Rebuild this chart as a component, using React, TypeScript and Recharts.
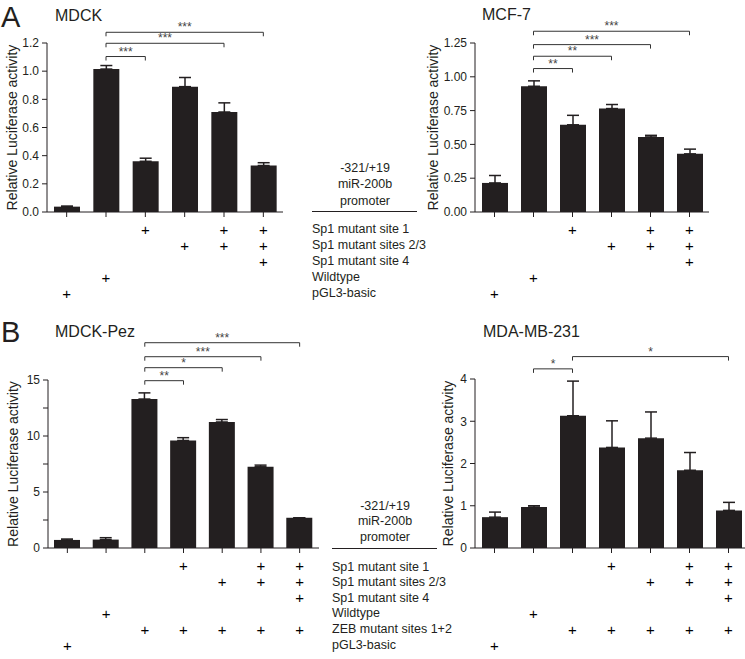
import React from "react";
import { BarChart, Bar, XAxis, YAxis, ErrorBar, ReferenceLine } from "recharts";

const INK = "#231f20";
const FONT = '"Liberation Sans", Arial, Helvetica, sans-serif';

// ---- panel A (MDCK, MCF-7) ----
const catsA = ["pGL3-basic", "Wildtype", "Sp1 mut 1", "Sp1 mut 2/3", "Sp1 mut 1+2/3", "Sp1 mut 1+2/3+4"];
const mdckValues = [0.038, 1.015, 0.36, 0.89, 0.71, 0.33];
const mdckErrors = [0.004, 0.025, 0.022, 0.065, 0.065, 0.02];
const mcf7Values = [0.215, 0.93, 0.645, 0.765, 0.555, 0.43];
const mcf7Errors = [0.055, 0.04, 0.07, 0.03, 0.012, 0.035];
const rowLabelsA = ["Sp1 mutant site 1", "Sp1 mutant sites 2/3", "Sp1 mutant site 4", "Wildtype", "pGL3-basic"];
const plusA = [
  [0, 0, 1, 0, 1, 1],
  [0, 0, 0, 1, 1, 1],
  [0, 0, 0, 0, 0, 1],
  [0, 1, 0, 0, 0, 0],
  [1, 0, 0, 0, 0, 0],
];
const mdckTicks = [0, 0.2, 0.4, 0.6, 0.8, 1.0, 1.2];
const mcf7Ticks = [0, 0.25, 0.5, 0.75, 1.0, 1.25];
// [from, to, height, stars]
const mdckBrackets: [number, number, number, string][] = [
  [1, 2, 1.104, "***"],
  [1, 4, 1.198, "***"],
  [1, 5, 1.276, "***"],
];
const mcf7Brackets: [number, number, number, string][] = [
  [1, 2, 1.061, "**"],
  [1, 3, 1.152, "**"],
  [1, 4, 1.238, "***"],
  [1, 5, 1.337, "***"],
];

// ---- panel B (MDCK-Pez, MDA-MB-231) ----
const catsB = ["pGL3-basic", "Wildtype", "ZEB mut", "ZEB+Sp1 mut 1", "ZEB+Sp1 mut 2/3", "ZEB+Sp1 mut 1+2/3", "ZEB+Sp1 mut 1+2/3+4"];
const pezValues = [0.72, 0.75, 13.3, 9.6, 11.25, 7.25, 2.7];
const pezErrors = [0.08, 0.17, 0.55, 0.25, 0.22, 0.15, 0];
const mdaValues = [0.73, 0.97, 3.13, 2.38, 2.6, 1.84, 0.89];
const mdaErrors = [0.12, 0.03, 0.82, 0.63, 0.62, 0.42, 0.19];
const rowLabelsB = ["Sp1 mutant site 1", "Sp1 mutant sites 2/3", "Sp1 mutant site 4", "Wildtype", "ZEB mutant sites 1+2", "pGL3-basic"];
const plusB = [
  [0, 0, 0, 1, 0, 1, 1],
  [0, 0, 0, 0, 1, 1, 1],
  [0, 0, 0, 0, 0, 0, 1],
  [0, 1, 0, 0, 0, 0, 0],
  [0, 0, 1, 1, 1, 1, 1],
  [1, 0, 0, 0, 0, 0, 0],
];
const pezTicks = [0, 2.5, 5, 7.5, 10, 12.5, 15];
const mdaTicks = [0, 1, 2, 3, 4];
const pezBrackets: [number, number, number, string][] = [
  [2, 3, 14.94, "**"],
  [2, 4, 16.1, "*"],
  [2, 5, 17.08, "***"],
  [2, 6, 18.33, "***"],
];
const mdaBrackets: [number, number, number, string][] = [
  [1, 2, 4.24, "*"],
  [2, 6, 4.53, "*"],
];
const promoterLines = ["-321/+19", "miR-200b", "promoter"];

function PlusTick(props: any) {
  const { x, y, payload, rows, rowStart, rowGap } = props;
  const i = payload.index;
  return (
    <g>
      {rows.map((row: number[], r: number) =>
        row[i] ? (
          <text key={r} x={x} y={y + rowStart + r * rowGap} textAnchor="middle" dominantBaseline="central" fontSize={15} fill="#000">
            +
          </text>
        ) : null
      )}
    </g>
  );
}

type PanelProps = {
  left: number;
  top: number;
  width: number;
  height: number;
  plotTop: number;
  plotHeight: number;
  yWidth: number;
  right: number;
  cats: string[];
  values: number[];
  errors: number[];
  domainMax: number;
  ticks: number[];
  fmt: (v: number) => string;
  brackets: [number, number, number, string][];
  plus: number[][];
  rowGap: number;
  labelOffset: number;
};

function Panel(p: PanelProps) {
  const data = p.cats.map((c, i) => ({ name: c, value: p.values[i], err: [0, p.errors[i]] }));
  const xHeight = p.height - p.plotTop - p.plotHeight;
  const depth = (p.domainMax * 4) / p.plotHeight;
  return (
    <div style={{ position: "absolute", left: p.left, top: p.top }}>
      <BarChart width={p.width} height={p.height} data={data} margin={{ top: p.plotTop, right: p.right, left: 0, bottom: 0 }}>
        <XAxis
          dataKey="name"
          interval={0}
          height={xHeight}
          tickSize={5}
          tickMargin={0}
          stroke={INK}
          tick={(t: any) => <PlusTick {...t} rows={p.plus} rowStart={12} rowGap={p.rowGap} />}
        />
        <YAxis
          width={p.yWidth}
          domain={[0, p.domainMax]}
          ticks={p.ticks}
          allowDataOverflow
          interval={0}
          tickSize={5}
          tickMargin={3}
          stroke={INK}
          tickFormatter={p.fmt}
          tick={{ fontSize: 12, fill: INK }}
          label={{
            value: "Relative Luciferase activity",
            angle: -90,
            position: "insideLeft",
            offset: p.labelOffset,
            fontSize: 14,
            fill: INK,
            style: { textAnchor: "middle" },
          }}
        />
        <Bar dataKey="value" fill={INK} barSize={26} isAnimationActive={false}>
          <ErrorBar dataKey="err" width={6} strokeWidth={1.5} stroke={INK} direction="y" />
        </Bar>
        {p.brackets.map(([a, b, h, s], k) => [
          <ReferenceLine
            key={`h${k}`}
            ifOverflow="visible"
            stroke="#333"
            strokeWidth={1}
            segment={[{ x: p.cats[a], y: h }, { x: p.cats[b], y: h }]}
            label={{ value: s, position: "top", offset: 1, fontSize: 12, fill: "#444" }}
          />,
          <ReferenceLine key={`l${k}`} ifOverflow="visible" stroke="#333" strokeWidth={1} segment={[{ x: p.cats[a], y: h }, { x: p.cats[a], y: h - depth }]} />,
          <ReferenceLine key={`r${k}`} ifOverflow="visible" stroke="#333" strokeWidth={1} segment={[{ x: p.cats[b], y: h }, { x: p.cats[b], y: h - depth }]} />,
        ])}
      </BarChart>
    </div>
  );
}

function Txt({ x, y, children, size = 12.5, center = false }: any) {
  return (
    <div
      style={{
        position: "absolute",
        left: center ? x - 100 : x,
        width: center ? 200 : undefined,
        textAlign: center ? "center" : "left",
        top: Math.max(0, y - size * 0.6),
        fontSize: size,
        lineHeight: `${size * 1.2}px`,
        whiteSpace: "nowrap",
        color: INK,
      }}
    >
      {children}
    </div>
  );
}

export default function App() {
  return (
    <div
      style={{
        position: "absolute",
        left: 0,
        top: 0,
        width: 745,
        height: 659,
        overflow: "hidden",
        background: "#fff",
        fontFamily: FONT,
      }}
    >
      <Panel
        left={0} top={0} width={295} height={305} plotTop={43} plotHeight={169} yWidth={47} right={12}
        cats={catsA} values={mdckValues} errors={mdckErrors} domainMax={1.2} ticks={mdckTicks}
        fmt={(v) => v.toFixed(1)} brackets={mdckBrackets} plus={plusA} rowGap={16.2} labelOffset={12}
      />
      <Panel
        left={420} top={0} width={300} height={305} plotTop={43} plotHeight={169} yWidth={55} right={11}
        cats={catsA} values={mcf7Values} errors={mcf7Errors} domainMax={1.25} ticks={mcf7Ticks}
        fmt={(v) => v.toFixed(2)} brackets={mcf7Brackets} plus={plusA} rowGap={16.2} labelOffset={13}
      />
      <Panel
        left={0} top={310} width={330} height={349} plotTop={70} plotHeight={168} yWidth={48} right={11}
        cats={catsB} values={pezValues} errors={pezErrors} domainMax={15} ticks={pezTicks}
        fmt={(v) => (v % 5 === 0 ? String(v) : "")} brackets={pezBrackets} plus={plusB} rowGap={16}
        labelOffset={13}
      />
      <Panel
        left={420} top={310} width={330} height={349} plotTop={69} plotHeight={169} yWidth={55} right={2}
        cats={catsB} values={mdaValues} errors={mdaErrors} domainMax={4} ticks={mdaTicks}
        fmt={(v) => String(v)} brackets={mdaBrackets} plus={plusB} rowGap={16} labelOffset={28}
      />

      {/* panel letters and titles */}
      <Txt x={1} y={17} size={29}>A</Txt>
      <Txt x={55} y={16} size={16}>MDCK</Txt>
      <Txt x={482} y={15} size={16}>MCF-7</Txt>
      <Txt x={1} y={332} size={29}>B</Txt>
      <Txt x={55} y={332} size={16}>MDCK-Pez</Txt>
      <Txt x={483} y={332} size={16}>MDA-MB-231</Txt>

      {/* construct table, panel A */}
      {promoterLines.map((s, i) => (
        <Txt key={s} x={365} y={168 + i * 16.5} center>{s}</Txt>
      ))}
      <div style={{ position: "absolute", left: 312, top: 211, width: 105, height: 1, background: INK }} />
      {rowLabelsA.map((s, i) => (
        <Txt key={s} x={312} y={229 + i * 16}>{s}</Txt>
      ))}

      {/* construct table, panel B */}
      {promoterLines.map((s, i) => (
        <Txt key={s} x={385} y={506 + i * 15.5} center>{s}</Txt>
      ))}
      <div style={{ position: "absolute", left: 332, top: 548, width: 105, height: 1, background: INK }} />
      {rowLabelsB.map((s, i) => (
        <Txt key={s} x={332} y={567 + i * 15.6}>{s}</Txt>
      ))}
    </div>
  );
}
